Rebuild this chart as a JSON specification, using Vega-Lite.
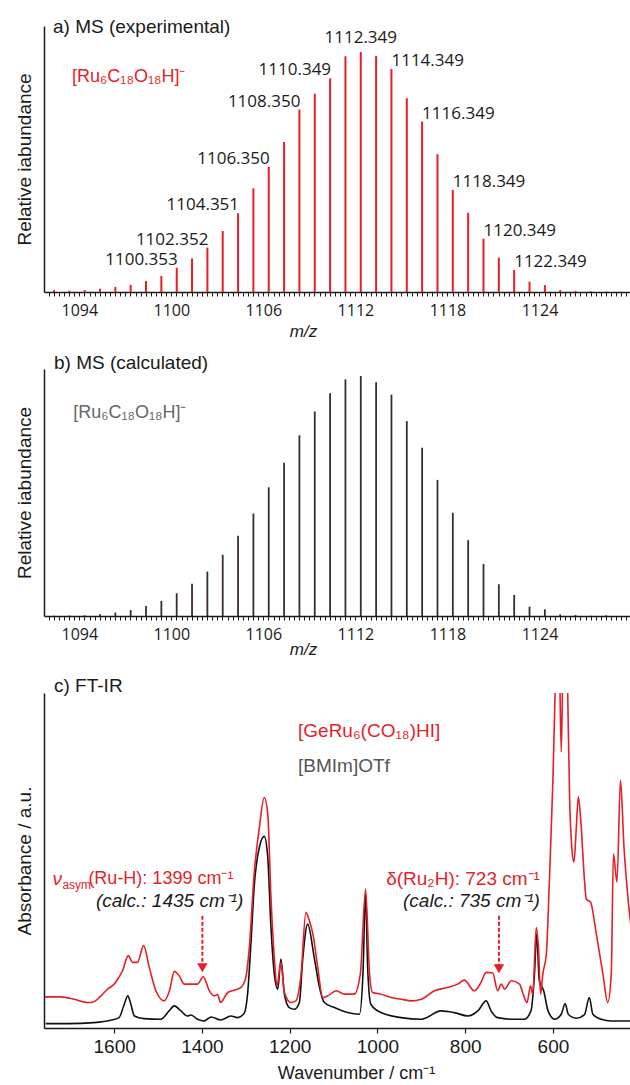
{
  "$schema": "https://vega.github.io/schema/vega-lite/v6.json",
  "background": "white",
  "padding": {"left": 15, "top": 18, "right": 0, "bottom": 0},
  "spacing": 77,
  "bounds": "flush",
  "config": {
    "view": {"stroke": null},
    "font": "Liberation Sans",
    "axis": {"grid": false, "domainColor": "#1a1a1a", "tickColor": "#1a1a1a", "labelColor": "#1a1a1a", "titleColor": "#1a1a1a", "titleFontWeight": "normal", "domainWidth": 1.5, "titleFont": "Liberation Sans"},
    "title": {"fontWeight": "normal", "color": "#1a1a1a", "font": "Liberation Sans", "fontSize": 19, "anchor": "start", "frame": "group", "baseline": "middle"}
  },
  "datasets": {
    "msExp": [
      {"mz": 1092.35, "ab": 0.8}, {"mz": 1093.35, "ab": 0.6}, {"mz": 1094.35, "ab": 0.8}, {"mz": 1095.35, "ab": 1.4},
      {"mz": 1096.35, "ab": 2.1}, {"mz": 1097.35, "ab": 3.0}, {"mz": 1098.35, "ab": 4.6}, {"mz": 1099.35, "ab": 6.7},
      {"mz": 1100.353, "ab": 10.1, "label": "1100.353"}, {"mz": 1101.35, "ab": 14.0},
      {"mz": 1102.352, "ab": 18.5, "label": "1102.352"}, {"mz": 1103.35, "ab": 25.4},
      {"mz": 1104.351, "ab": 32.8, "label": "1104.351"}, {"mz": 1105.35, "ab": 43.2},
      {"mz": 1106.350, "ab": 52.2, "label": "1106.350"}, {"mz": 1107.35, "ab": 62.5},
      {"mz": 1108.350, "ab": 76.0, "label": "1108.350"}, {"mz": 1109.35, "ab": 82.6},
      {"mz": 1110.349, "ab": 89.0, "label": "1110.349"}, {"mz": 1111.35, "ab": 98.2},
      {"mz": 1112.349, "ab": 100, "label": "1112.349"}, {"mz": 1113.35, "ab": 98.3},
      {"mz": 1114.349, "ab": 92.9, "label": "1114.349"}, {"mz": 1115.35, "ab": 80.7},
      {"mz": 1116.349, "ab": 71.0, "label": "1116.349"}, {"mz": 1117.35, "ab": 57.4},
      {"mz": 1118.349, "ab": 42.5, "label": "1118.349"}, {"mz": 1119.35, "ab": 33.0},
      {"mz": 1120.349, "ab": 22.2, "label": "1120.349"}, {"mz": 1121.35, "ab": 14.3},
      {"mz": 1122.349, "ab": 9.2, "label": "1122.349"}, {"mz": 1123.35, "ab": 4.3},
      {"mz": 1124.35, "ab": 2.9}, {"mz": 1125.35, "ab": 0.8}, {"mz": 1126.35, "ab": 0.5},
      {"mz": 1127.35, "ab": 0.3}, {"mz": 1128.35, "ab": 0.2}
    ],
    "msCalc": [
      {"mz": 1092.35, "ab": 0.1}, {"mz": 1093.35, "ab": 0.2}, {"mz": 1094.35, "ab": 0.3}, {"mz": 1095.35, "ab": 0.7},
      {"mz": 1096.35, "ab": 1.4}, {"mz": 1097.35, "ab": 2.5}, {"mz": 1098.35, "ab": 4.2}, {"mz": 1099.35, "ab": 6.3},
      {"mz": 1100.35, "ab": 9.5}, {"mz": 1101.35, "ab": 13.4}, {"mz": 1102.35, "ab": 18.5}, {"mz": 1103.35, "ab": 25.5},
      {"mz": 1104.35, "ab": 33.4}, {"mz": 1105.35, "ab": 42.7}, {"mz": 1106.35, "ab": 53.6}, {"mz": 1107.35, "ab": 63.8},
      {"mz": 1108.35, "ab": 75.3}, {"mz": 1109.35, "ab": 85.2}, {"mz": 1110.35, "ab": 92.8}, {"mz": 1111.35, "ab": 98.6},
      {"mz": 1112.35, "ab": 100}, {"mz": 1113.35, "ab": 97.4}, {"mz": 1114.35, "ab": 92.2}, {"mz": 1115.35, "ab": 81.2},
      {"mz": 1116.35, "ab": 70.1}, {"mz": 1117.35, "ab": 56.7}, {"mz": 1118.35, "ab": 43.0}, {"mz": 1119.35, "ab": 31.6},
      {"mz": 1120.35, "ab": 21.7}, {"mz": 1121.35, "ab": 13.2}, {"mz": 1122.35, "ab": 8.8}, {"mz": 1123.35, "ab": 3.9},
      {"mz": 1124.35, "ab": 2.8}, {"mz": 1125.35, "ab": 0.7}, {"mz": 1126.35, "ab": 0.4}, {"mz": 1127.35, "ab": 0.1},
      {"mz": 1128.35, "ab": 0.3}
    ],
    "irRed": [
      {"wn": 1758, "a": 0.093}, {"wn": 1722, "a": 0.093}, {"wn": 1691, "a": 0.086}, {"wn": 1661, "a": 0.076},
      {"wn": 1649, "a": 0.077}, {"wn": 1630, "a": 0.096}, {"wn": 1615, "a": 0.116}, {"wn": 1600, "a": 0.131},
      {"wn": 1590, "a": 0.15}, {"wn": 1581, "a": 0.171}, {"wn": 1568, "a": 0.216}, {"wn": 1558, "a": 0.196},
      {"wn": 1547, "a": 0.196}, {"wn": 1533, "a": 0.246}, {"wn": 1520, "a": 0.181}, {"wn": 1505, "a": 0.111},
      {"wn": 1486, "a": 0.081}, {"wn": 1474, "a": 0.111}, {"wn": 1463, "a": 0.169}, {"wn": 1452, "a": 0.156},
      {"wn": 1440, "a": 0.131}, {"wn": 1425, "a": 0.131}, {"wn": 1410, "a": 0.131}, {"wn": 1397, "a": 0.153},
      {"wn": 1383, "a": 0.111}, {"wn": 1372, "a": 0.096}, {"wn": 1364, "a": 0.1}, {"wn": 1358, "a": 0.076},
      {"wn": 1341, "a": 0.106}, {"wn": 1326, "a": 0.113}, {"wn": 1311, "a": 0.121}, {"wn": 1300, "a": 0.151},
      {"wn": 1292, "a": 0.24}, {"wn": 1281, "a": 0.46}, {"wn": 1269, "a": 0.60}, {"wn": 1258, "a": 0.688},
      {"wn": 1250, "a": 0.64}, {"wn": 1243, "a": 0.40}, {"wn": 1235, "a": 0.21}, {"wn": 1229, "a": 0.126},
      {"wn": 1220, "a": 0.196}, {"wn": 1212, "a": 0.106}, {"wn": 1197, "a": 0.076}, {"wn": 1186, "a": 0.081},
      {"wn": 1174, "a": 0.161}, {"wn": 1163, "a": 0.345}, {"wn": 1155, "a": 0.32}, {"wn": 1147, "a": 0.28},
      {"wn": 1136, "a": 0.181}, {"wn": 1125, "a": 0.091}, {"wn": 1113, "a": 0.096}, {"wn": 1094, "a": 0.111},
      {"wn": 1075, "a": 0.101}, {"wn": 1053, "a": 0.101}, {"wn": 1039, "a": 0.161}, {"wn": 1027, "a": 0.415},
      {"wn": 1018, "a": 0.161}, {"wn": 1011, "a": 0.106}, {"wn": 992, "a": 0.101}, {"wn": 969, "a": 0.091},
      {"wn": 946, "a": 0.086}, {"wn": 923, "a": 0.081}, {"wn": 900, "a": 0.086}, {"wn": 870, "a": 0.111},
      {"wn": 840, "a": 0.121}, {"wn": 817, "a": 0.131}, {"wn": 802, "a": 0.143}, {"wn": 779, "a": 0.111},
      {"wn": 764, "a": 0.136}, {"wn": 752, "a": 0.166}, {"wn": 737, "a": 0.164}, {"wn": 726, "a": 0.111},
      {"wn": 718, "a": 0.131}, {"wn": 710, "a": 0.116}, {"wn": 695, "a": 0.141}, {"wn": 676, "a": 0.131},
      {"wn": 669, "a": 0.106}, {"wn": 659, "a": 0.076}, {"wn": 651, "a": 0.126}, {"wn": 646, "a": 0.1},
      {"wn": 638, "a": 0.30}, {"wn": 633, "a": 0.24}, {"wn": 628, "a": 0.101}, {"wn": 623, "a": 0.161},
      {"wn": 615, "a": 0.22}, {"wn": 608, "a": 0.44}, {"wn": 600, "a": 0.74}, {"wn": 595, "a": 1.0},
      {"wn": 590, "a": 1.25}, {"wn": 585, "a": 1.1}, {"wn": 581, "a": 0.824}, {"wn": 577, "a": 1.1},
      {"wn": 572, "a": 1.25}, {"wn": 567, "a": 1.05}, {"wn": 562, "a": 0.69}, {"wn": 557, "a": 0.54},
      {"wn": 552, "a": 0.495}, {"wn": 547, "a": 0.59}, {"wn": 542, "a": 0.69}, {"wn": 536, "a": 0.61},
      {"wn": 528, "a": 0.44}, {"wn": 524, "a": 0.385}, {"wn": 514, "a": 0.375}, {"wn": 501, "a": 0.28},
      {"wn": 486, "a": 0.161}, {"wn": 475, "a": 0.076}, {"wn": 467, "a": 0.161}, {"wn": 462, "a": 0.52},
      {"wn": 454, "a": 0.435}, {"wn": 446, "a": 0.74}, {"wn": 438, "a": 0.54}, {"wn": 429, "a": 0.39},
      {"wn": 421, "a": 0.29}
    ],
    "irBlack": [
      {"wn": 1756, "a": 0.013}, {"wn": 1706, "a": 0.013}, {"wn": 1646, "a": 0.016}, {"wn": 1608, "a": 0.023},
      {"wn": 1589, "a": 0.031}, {"wn": 1577, "a": 0.071}, {"wn": 1569, "a": 0.096}, {"wn": 1562, "a": 0.071},
      {"wn": 1554, "a": 0.036}, {"wn": 1532, "a": 0.028}, {"wn": 1494, "a": 0.026}, {"wn": 1475, "a": 0.051},
      {"wn": 1463, "a": 0.066}, {"wn": 1448, "a": 0.051}, {"wn": 1433, "a": 0.036}, {"wn": 1425, "a": 0.039},
      {"wn": 1410, "a": 0.026}, {"wn": 1395, "a": 0.021}, {"wn": 1379, "a": 0.033}, {"wn": 1357, "a": 0.024},
      {"wn": 1334, "a": 0.036}, {"wn": 1319, "a": 0.031}, {"wn": 1304, "a": 0.043}, {"wn": 1296, "a": 0.101},
      {"wn": 1288, "a": 0.26}, {"wn": 1281, "a": 0.42}, {"wn": 1269, "a": 0.54}, {"wn": 1258, "a": 0.572},
      {"wn": 1250, "a": 0.51}, {"wn": 1243, "a": 0.31}, {"wn": 1235, "a": 0.161}, {"wn": 1227, "a": 0.116},
      {"wn": 1220, "a": 0.206}, {"wn": 1212, "a": 0.101}, {"wn": 1201, "a": 0.061}, {"wn": 1189, "a": 0.056},
      {"wn": 1178, "a": 0.076}, {"wn": 1170, "a": 0.21}, {"wn": 1159, "a": 0.31}, {"wn": 1144, "a": 0.21},
      {"wn": 1132, "a": 0.121}, {"wn": 1121, "a": 0.076}, {"wn": 1098, "a": 0.061}, {"wn": 1068, "a": 0.046},
      {"wn": 1041, "a": 0.041}, {"wn": 1033, "a": 0.161}, {"wn": 1027, "a": 0.40}, {"wn": 1022, "a": 0.171},
      {"wn": 1015, "a": 0.071}, {"wn": 992, "a": 0.046}, {"wn": 946, "a": 0.031}, {"wn": 900, "a": 0.026},
      {"wn": 855, "a": 0.051}, {"wn": 825, "a": 0.046}, {"wn": 794, "a": 0.036}, {"wn": 771, "a": 0.051},
      {"wn": 752, "a": 0.081}, {"wn": 741, "a": 0.051}, {"wn": 726, "a": 0.031}, {"wn": 688, "a": 0.026},
      {"wn": 665, "a": 0.026}, {"wn": 650, "a": 0.051}, {"wn": 642, "a": 0.161}, {"wn": 637, "a": 0.28},
      {"wn": 631, "a": 0.141}, {"wn": 621, "a": 0.111}, {"wn": 611, "a": 0.051}, {"wn": 596, "a": 0.026},
      {"wn": 581, "a": 0.041}, {"wn": 572, "a": 0.073}, {"wn": 565, "a": 0.041}, {"wn": 547, "a": 0.029},
      {"wn": 528, "a": 0.04}, {"wn": 517, "a": 0.091}, {"wn": 509, "a": 0.041}, {"wn": 490, "a": 0.026},
      {"wn": 467, "a": 0.021}, {"wn": 421, "a": 0.021}
    ],
    "irNotes": [
      {"wn": 1399, "a": 0.335, "a2": 0.18, "line1": "(Ru-H): 1399 cm⁻¹", "line2": "(calc.: 1435 cm⁻¹)"},
      {"wn": 723, "a": 0.335, "a2": 0.177, "line1": "δ(Ru₂H): 723 cm⁻¹", "line2": "(calc.: 735 cm⁻¹)"}
    ],
    "irLegend": [
      {"wn": 1181, "a": 0.886, "name": "[GeRu₆(CO₁₈)HI]"},
      {"wn": 1181, "a": 0.781, "name": "[BMIm]OTf"}
    ]
  },
  "vconcat": [
    {
      "width": 586, "height": 266,
      "title": {"text": "a) MS (experimental)", "offset": -11, "dx": 9},
      "data": {"name": "msExp"},
      "encoding": {
        "x": {"field": "mz", "type": "quantitative", "scale": {"domain": [1091.7, 1129.9], "nice": false, "zero": false},
          "axis": {"title": "m/z", "values": [1092,1092.333,1092.667,1093,1093.333,1093.667,1094,1094.333,1094.667,1095,1095.333,1095.667,1096,1096.333,1096.667,1097,1097.333,1097.667,1098,1098.333,1098.667,1099,1099.333,1099.667,1100,1100.333,1100.667,1101,1101.333,1101.667,1102,1102.333,1102.667,1103,1103.333,1103.667,1104,1104.333,1104.667,1105,1105.333,1105.667,1106,1106.333,1106.667,1107,1107.333,1107.667,1108,1108.333,1108.667,1109,1109.333,1109.667,1110,1110.333,1110.667,1111,1111.333,1111.667,1112,1112.333,1112.667,1113,1113.333,1113.667,1114,1114.333,1114.667,1115,1115.333,1115.667,1116,1116.333,1116.667,1117,1117.333,1117.667,1118,1118.333,1118.667,1119,1119.333,1119.667,1120,1120.333,1120.667,1121,1121.333,1121.667,1122,1122.333,1122.667,1123,1123.333,1123.667,1124,1124.333,1124.667,1125,1125.333,1125.667,1126,1126.333,1126.667,1127,1127.333,1127.667,1128,1128.333,1128.667,1129,1129.333,1129.667],
            "labelExpr": "indexof([1094,1100,1106,1112,1118,1124], datum.value) >= 0 ? format(datum.value, 'd') : ''",
            "tickSize": 4, "tickWidth": 1, "labelFont": "Open Sans", "labelFontSize": 16, "labelPadding": 6, "labelOverlap": false, "labelFlush": false,
            "titleFontStyle": "italic", "titleFontSize": 17, "titleX": 259, "titleY": 39, "titleBaseline": "middle"}},
        "y": {"field": "ab", "type": "quantitative", "scale": {"domain": [0, 110.8], "nice": false},
          "axis": {"title": "Relative iabundance", "ticks": false, "labels": false, "titleFontSize": 19, "titlePadding": 10}}
      },
      "layer": [
        {"mark": {"type": "rule", "color": "#e61e28", "strokeWidth": 2}, "encoding": {"y2": {"datum": 0}}},
        {"transform": [{"filter": "datum.label && datum.mz < 1111.5"}],
         "mark": {"type": "text", "align": "right", "baseline": "alphabetic", "dx": 1, "dy": -3, "font": "Open Sans", "fontSize": 17, "color": "#1a1a1a"},
         "encoding": {"text": {"field": "label", "type": "nominal"}}},
        {"transform": [{"filter": "datum.label && datum.mz > 1113"}],
         "mark": {"type": "text", "align": "left", "baseline": "alphabetic", "dx": 0, "dy": -3, "font": "Open Sans", "fontSize": 17, "color": "#1a1a1a"},
         "encoding": {"text": {"field": "label", "type": "nominal"}}},
        {"transform": [{"filter": "datum.label && datum.mz > 1111.5 && datum.mz < 1113"}],
         "mark": {"type": "text", "align": "center", "baseline": "alphabetic", "dy": -9, "font": "Open Sans", "fontSize": 17, "color": "#1a1a1a"},
         "encoding": {"text": {"field": "label", "type": "nominal"}}},
        {"data": {"values": [{"mz": 1093.53, "ab": 89.5, "formula": "[Ru₆C₁₈O₁₈H]⁻"}]},
         "mark": {"type": "text", "align": "left", "baseline": "middle", "fontSize": 18, "color": "#e61e28"},
         "encoding": {"text": {"field": "formula", "type": "nominal"}}}
      ]
    },
    {
      "width": 586, "height": 247,
      "title": {"text": "b) MS (calculated)", "offset": -4, "dx": 10},
      "data": {"name": "msCalc"},
      "encoding": {
        "x": {"field": "mz", "type": "quantitative", "scale": {"domain": [1091.7, 1129.9], "nice": false, "zero": false},
          "axis": {"title": "m/z", "values": [1092,1092.333,1092.667,1093,1093.333,1093.667,1094,1094.333,1094.667,1095,1095.333,1095.667,1096,1096.333,1096.667,1097,1097.333,1097.667,1098,1098.333,1098.667,1099,1099.333,1099.667,1100,1100.333,1100.667,1101,1101.333,1101.667,1102,1102.333,1102.667,1103,1103.333,1103.667,1104,1104.333,1104.667,1105,1105.333,1105.667,1106,1106.333,1106.667,1107,1107.333,1107.667,1108,1108.333,1108.667,1109,1109.333,1109.667,1110,1110.333,1110.667,1111,1111.333,1111.667,1112,1112.333,1112.667,1113,1113.333,1113.667,1114,1114.333,1114.667,1115,1115.333,1115.667,1116,1116.333,1116.667,1117,1117.333,1117.667,1118,1118.333,1118.667,1119,1119.333,1119.667,1120,1120.333,1120.667,1121,1121.333,1121.667,1122,1122.333,1122.667,1123,1123.333,1123.667,1124,1124.333,1124.667,1125,1125.333,1125.667,1126,1126.333,1126.667,1127,1127.333,1127.667,1128,1128.333,1128.667,1129,1129.333,1129.667],
            "labelExpr": "indexof([1094,1100,1106,1112,1118,1124], datum.value) >= 0 ? format(datum.value, 'd') : ''",
            "tickSize": 4, "tickWidth": 1, "labelFont": "Open Sans", "labelFontSize": 16, "labelPadding": 6, "labelOverlap": false, "labelFlush": false,
            "titleFontStyle": "italic", "titleFontSize": 17, "titleX": 259, "titleY": 33, "titleBaseline": "middle"}},
        "y": {"field": "ab", "type": "quantitative", "scale": {"domain": [0, 102.9], "nice": false},
          "axis": {"title": "Relative iabundance", "ticks": false, "labels": false, "titleFontSize": 19, "titlePadding": 10}}
      },
      "layer": [
        {"mark": {"type": "rule", "color": "#3a2c2c", "strokeWidth": 1.8}, "encoding": {"y2": {"datum": 0}}},
        {"data": {"values": [{"mz": 1093.6, "ab": 84.6, "formula": "[Ru₆C₁₈O₁₈H]⁻"}]},
         "mark": {"type": "text", "align": "left", "baseline": "middle", "fontSize": 18, "color": "#666666"},
         "encoding": {"text": {"field": "formula", "type": "nominal"}}}
      ]
    },
    {
      "width": 587, "height": 335,
      "title": {"text": "c) FT-IR", "offset": -3, "dx": 10},
      "encoding": {
        "x": {"field": "wn", "type": "quantitative", "scale": {"domain": [422, 1760], "reverse": true, "nice": false, "zero": false},
          "axis": {"title": "Wavenumber / cm⁻¹", "values": [1600, 1400, 1200, 1000, 800, 600], "format": "d", "tickSize": 5, "tickWidth": 1.2,
            "labelFontSize": 19, "labelPadding": 4, "labelFlush": false, "titleFontSize": 18, "titleX": 312, "titleY": 45, "titleBaseline": "middle"}},
        "y": {"field": "a", "type": "quantitative", "scale": {"domain": [0, 1], "nice": false},
          "axis": {"title": "Absorbance / a.u.", "ticks": false, "labels": false, "titleFontSize": 19, "titlePadding": 10}}
      },
      "layer": [
        {"data": {"name": "irBlack"}, "mark": {"type": "line", "color": "#111111", "strokeWidth": 1.6, "interpolate": "monotone", "clip": true}},
        {"data": {"name": "irRed"}, "mark": {"type": "line", "color": "#e61e28", "strokeWidth": 1.6, "interpolate": "monotone", "clip": true}},
        {"data": {"name": "irNotes"}, "mark": {"type": "rule", "color": "#e61e28", "strokeWidth": 2, "strokeDash": [4, 2]},
         "encoding": {"y2": {"field": "a2"}}},
        {"data": {"name": "irNotes"}, "mark": {"type": "point", "shape": "triangle-down", "filled": true, "opacity": 1, "size": 110, "color": "#e61e28"},
         "encoding": {"y": {"field": "a2", "type": "quantitative", "title": "Absorbance / a.u."}}},
        {"data": {"name": "irNotes"}, "transform": [{"filter": "datum.wn == 723"}],
         "mark": {"type": "text", "align": "right", "baseline": "middle", "dx": 41, "dy": -37, "fontSize": 19, "color": "#e61e28"},
         "encoding": {"text": {"field": "line1", "type": "nominal"}}},
        {"data": {"name": "irNotes"}, "transform": [{"filter": "datum.wn == 1399"}],
         "mark": {"type": "text", "align": "left", "baseline": "middle", "dx": -114, "dy": -37, "fontSize": 18, "color": "#e61e28"},
         "encoding": {"text": {"field": "line1", "type": "nominal"}}},
        {"data": {"name": "irNotes"}, "transform": [{"filter": "datum.wn == 1399"}],
         "mark": {"type": "text", "align": "left", "baseline": "middle", "dx": -150, "dy": -37, "fontSize": 19, "fontStyle": "italic", "color": "#e61e28", "text": "ν"}},
        {"data": {"name": "irNotes"}, "transform": [{"filter": "datum.wn == 1399"}],
         "mark": {"type": "text", "align": "left", "baseline": "middle", "dx": -140, "dy": -31, "fontSize": 12, "color": "#e61e28", "text": "asym"}},
        {"data": {"name": "irNotes"},
         "mark": {"type": "text", "align": "right", "baseline": "middle", "dx": 41, "dy": -15, "fontSize": 19, "fontStyle": "italic", "color": "#1a1a1a"},
         "encoding": {"text": {"field": "line2", "type": "nominal"}}},
        {"data": {"name": "irLegend"},
         "mark": {"type": "text", "align": "left", "baseline": "middle", "fontSize": 19},
         "encoding": {"text": {"field": "name", "type": "nominal"},
           "color": {"field": "name", "type": "nominal", "scale": {"domain": ["[GeRu₆(CO₁₈)HI]", "[BMIm]OTf"], "range": ["#e61e28", "#555555"]}, "legend": null}}}
      ]
    }
  ]
}
